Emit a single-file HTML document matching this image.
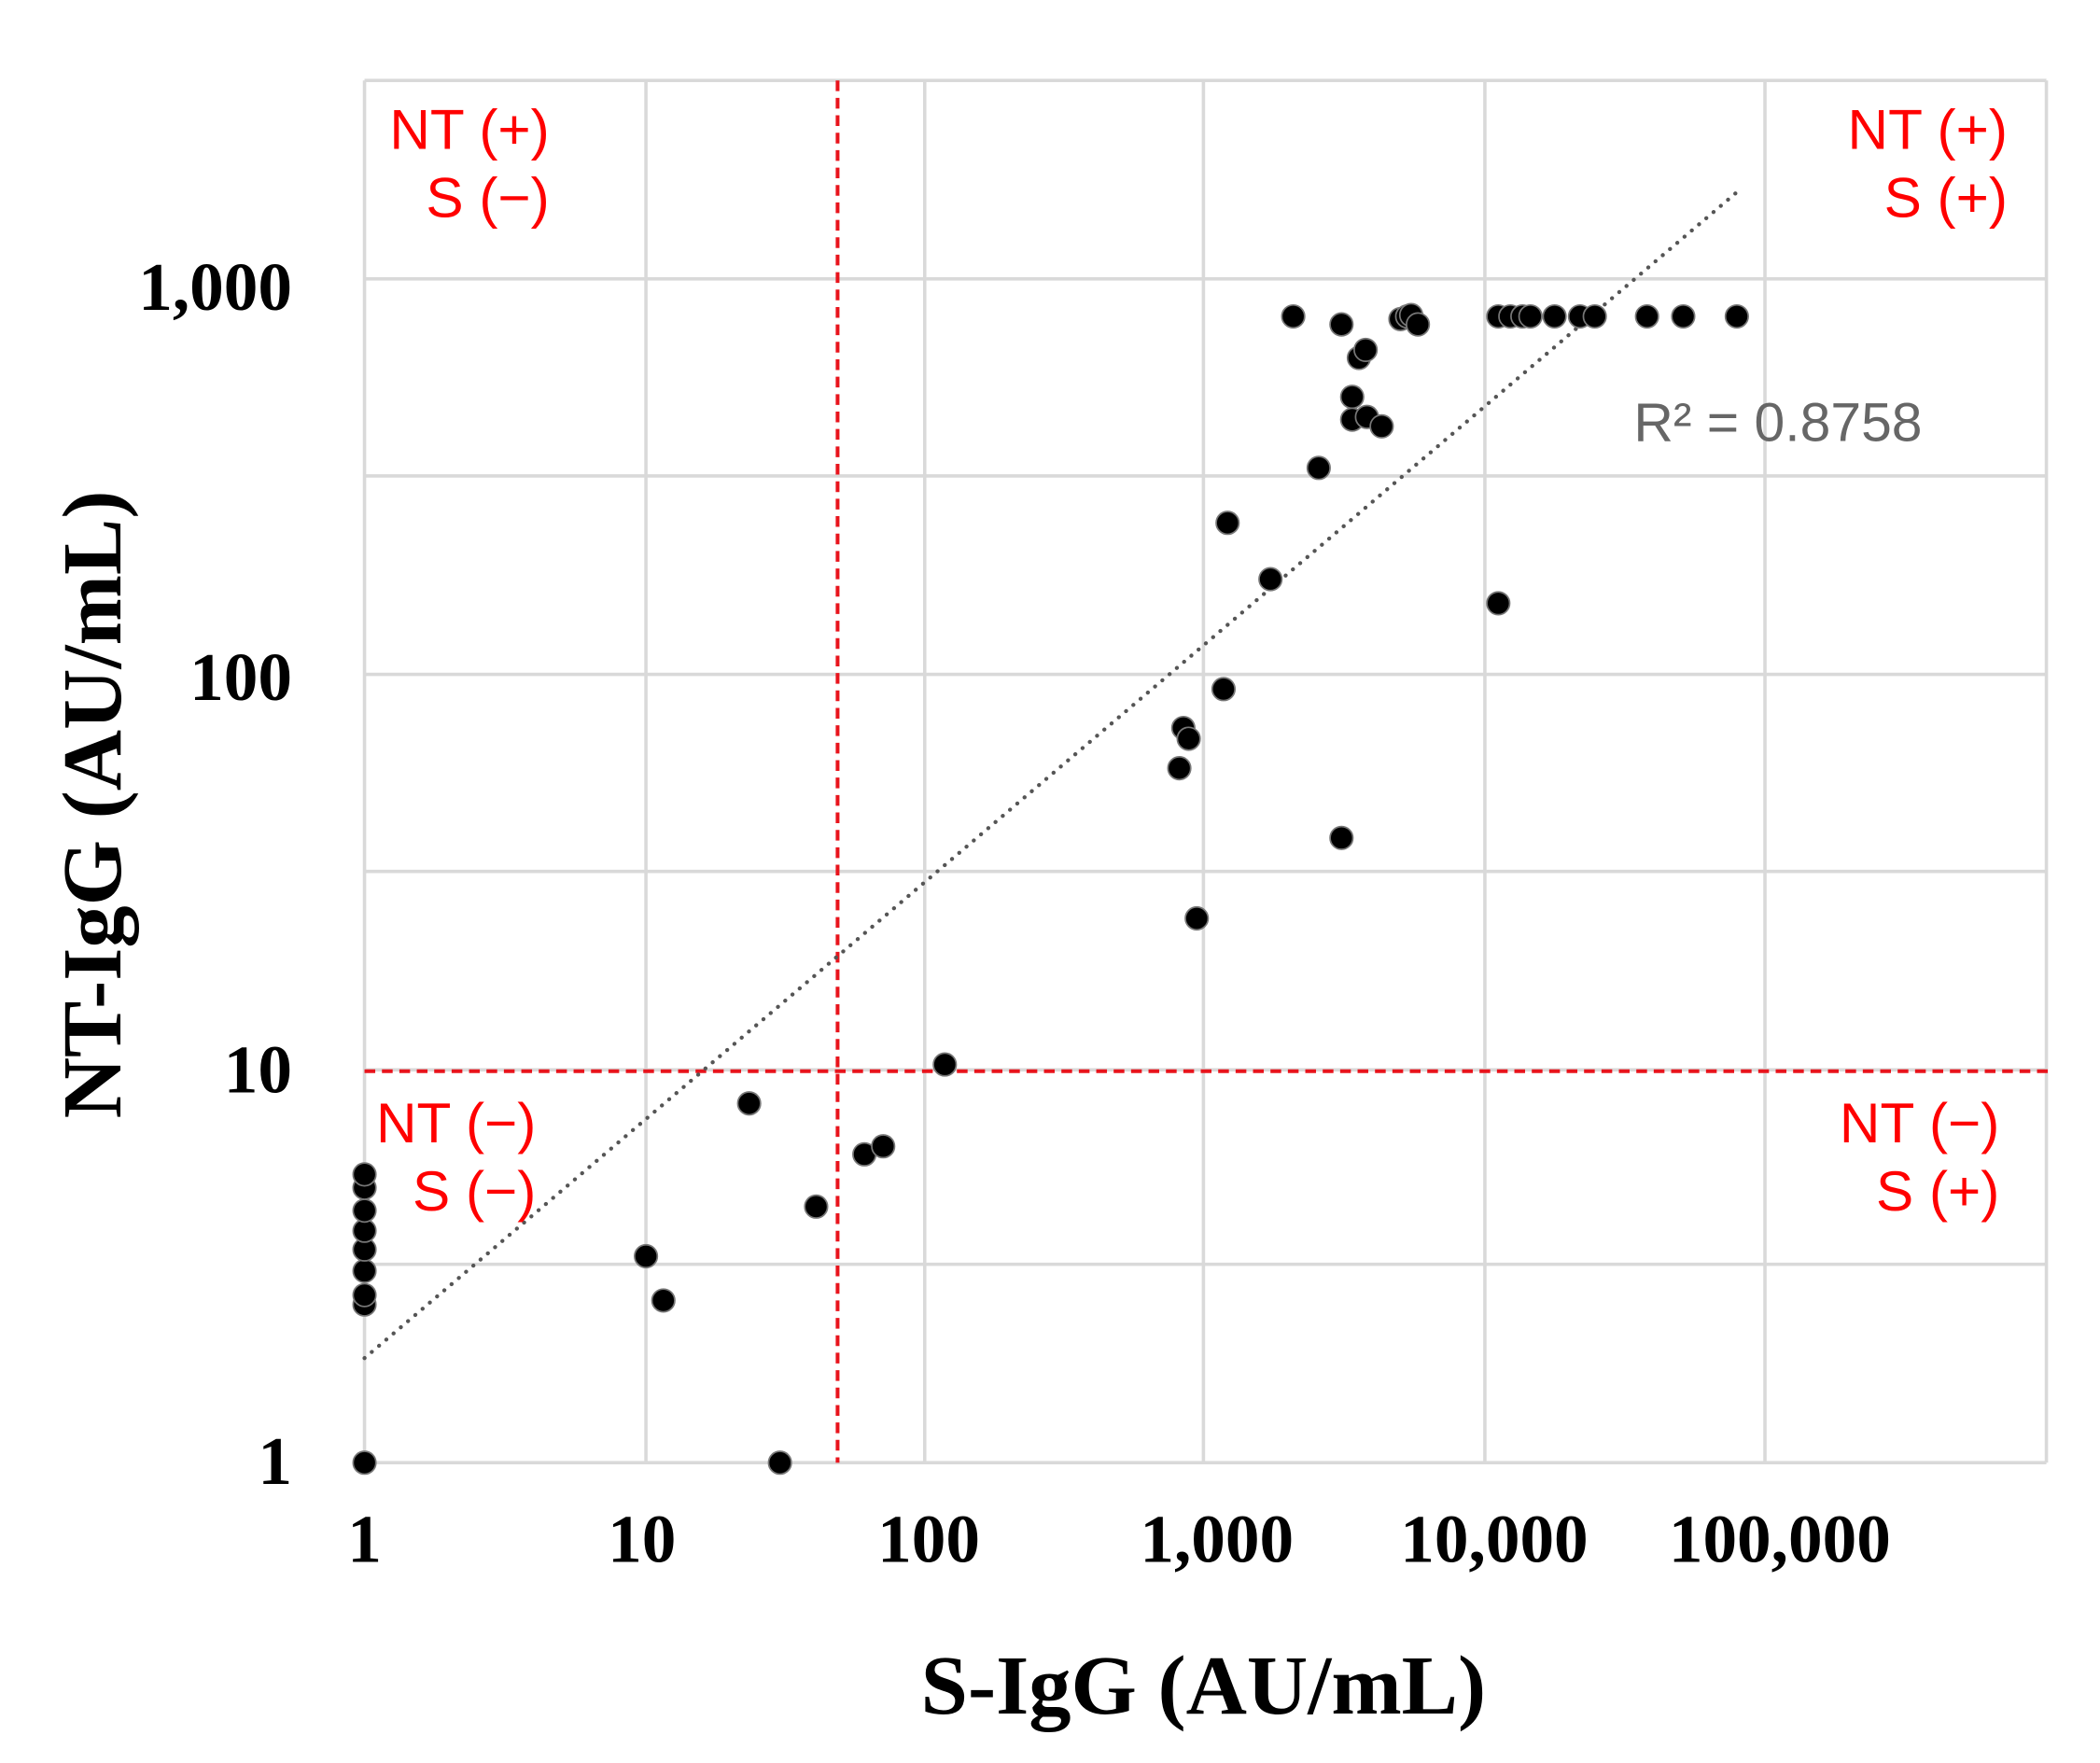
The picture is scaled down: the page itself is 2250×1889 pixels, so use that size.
<!DOCTYPE html>
<html><head><meta charset="utf-8"><style>
html,body{margin:0;padding:0;background:#fff;}
svg{display:block;}
</style></head><body>
<svg width="2250" height="1889" viewBox="0 0 1567 1315" preserveAspectRatio="none" xmlns="http://www.w3.org/2000/svg">
<rect width="1567" height="1315" fill="#fff"/>
<g stroke="#d9d9d9" stroke-width="2.5" fill="none">
<line x1="272" y1="60" x2="1527" y2="60"/>
<line x1="272" y1="208" x2="1527" y2="208"/>
<line x1="272" y1="355" x2="1527" y2="355"/>
<line x1="272" y1="503" x2="1527" y2="503"/>
<line x1="272" y1="650" x2="1527" y2="650"/>
<line x1="272" y1="798" x2="1527" y2="798"/>
<line x1="272" y1="943" x2="1527" y2="943"/>
<line x1="272" y1="1091" x2="1527" y2="1091"/>
<line x1="272" y1="60" x2="272" y2="1091"/>
<line x1="482" y1="60" x2="482" y2="1091"/>
<line x1="690" y1="60" x2="690" y2="1091"/>
<line x1="898" y1="60" x2="898" y2="1091"/>
<line x1="1108" y1="60" x2="1108" y2="1091"/>
<line x1="1317" y1="60" x2="1317" y2="1091"/>
<line x1="1527" y1="60" x2="1527" y2="1091"/>
</g>
<line x1="625" y1="60" x2="625" y2="1091" stroke="#e8141c" stroke-width="2.8" stroke-dasharray="8,5"/>
<line x1="272" y1="799" x2="1530" y2="799" stroke="#e8141c" stroke-width="2.8" stroke-dasharray="8,5"/>
<line x1="272" y1="1013" x2="1300" y2="140" stroke="#555" stroke-width="3" stroke-dasharray="0.1,7" stroke-linecap="round"/>
<g fill="#000" stroke="#777" stroke-width="1.2">
<circle cx="272" cy="1091" r="8.5"/>
<circle cx="272" cy="973" r="8.5"/><circle cx="272" cy="966" r="8.5"/><circle cx="272" cy="948" r="8.5"/><circle cx="272" cy="932" r="8.5"/><circle cx="272" cy="918" r="8.5"/><circle cx="272" cy="903" r="8.5"/><circle cx="272" cy="886" r="8.5"/><circle cx="272" cy="876" r="8.5"/>
<circle cx="482" cy="937" r="8.5"/><circle cx="495" cy="970" r="8.5"/><circle cx="559" cy="823" r="8.5"/><circle cx="582" cy="1091" r="8.5"/><circle cx="609" cy="900" r="8.5"/><circle cx="645" cy="861" r="8.5"/><circle cx="659" cy="855" r="8.5"/><circle cx="705" cy="794" r="8.5"/>
<circle cx="880" cy="573" r="8.5"/><circle cx="883" cy="543" r="8.5"/><circle cx="887" cy="551" r="8.5"/><circle cx="893" cy="685" r="8.5"/><circle cx="913" cy="514" r="8.5"/><circle cx="916" cy="390" r="8.5"/><circle cx="948" cy="432" r="8.5"/><circle cx="965" cy="236" r="8.5"/><circle cx="984" cy="349" r="8.5"/><circle cx="1001" cy="242" r="8.5"/><circle cx="1001" cy="625" r="8.5"/><circle cx="1009" cy="296" r="8.5"/><circle cx="1009" cy="313" r="8.5"/><circle cx="1014" cy="267" r="8.5"/><circle cx="1019" cy="261" r="8.5"/><circle cx="1020" cy="311" r="8.5"/><circle cx="1031" cy="318" r="8.5"/><circle cx="1045" cy="238" r="8.5"/><circle cx="1050" cy="236" r="8.5"/><circle cx="1053" cy="235" r="8.5"/><circle cx="1058" cy="242" r="8.5"/>
<circle cx="1118" cy="236" r="8.5"/><circle cx="1118" cy="450" r="8.5"/><circle cx="1127" cy="236" r="8.5"/><circle cx="1136" cy="236" r="8.5"/><circle cx="1142" cy="236" r="8.5"/><circle cx="1160" cy="236" r="8.5"/><circle cx="1179" cy="236" r="8.5"/><circle cx="1190" cy="236" r="8.5"/><circle cx="1229" cy="236" r="8.5"/><circle cx="1256" cy="236" r="8.5"/><circle cx="1296" cy="236" r="8.5"/>
</g>
<g font-family="Liberation Sans, sans-serif" font-size="42" fill="#ff0000" text-anchor="end">
<text x="410" y="111">NT (+)</text><text x="410" y="162">S (−)</text>
<text x="1498" y="111">NT (+)</text><text x="1498" y="162">S (+)</text>
<text x="400" y="852">NT (−)</text><text x="400" y="903">S (−)</text>
<text x="1492" y="852">NT (−)</text><text x="1492" y="903">S (+)</text>
</g>
<text x="1219" y="329" font-family="Liberation Sans, sans-serif" font-size="41" fill="#666">R² = 0.8758</text>
<g font-family="Liberation Serif, serif" font-weight="bold" font-size="51" fill="#000">
<g text-anchor="end">
<text x="218" y="231">1,000</text><text x="218" y="522">100</text><text x="218" y="815">10</text><text x="218" y="1107">1</text>
</g>
<g text-anchor="middle">
<text x="272" y="1165">1</text><text x="479" y="1165">10</text><text x="693" y="1165">100</text><text x="908" y="1165">1,000</text><text x="1115" y="1165">10,000</text><text x="1328" y="1165">100,000</text>
</g>
<text x="898" y="1278" text-anchor="middle" font-size="63">S-IgG (AU/mL)</text>
<text transform="translate(90,600) rotate(-90)" text-anchor="middle" font-size="63">NT-IgG (AU/mL)</text>
</g>
</svg>
</body></html>
